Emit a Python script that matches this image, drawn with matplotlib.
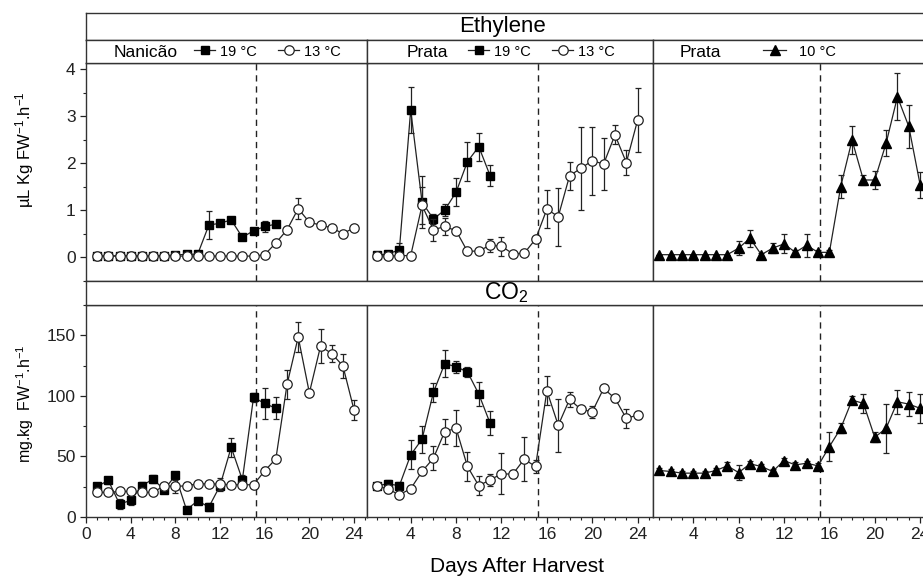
import matplotlib
matplotlib.use('Agg')
import matplotlib.pyplot as plt
from matplotlib.lines import Line2D
from matplotlib.ticker import MultipleLocator
import numpy as np

plt.rcParams['font.family'] = ['Liberation Sans', 'DejaVu Sans']
plt.rcParams['mathtext.fontset'] = 'custom'
plt.rcParams['mathtext.rm'] = 'Liberation Sans'
plt.rcParams['mathtext.it'] = 'Liberation Sans'

# ---------------- data ----------------
days24 = list(range(1, 25))
days17 = list(range(1, 18))
days11 = list(range(1, 12))

nan_eth_19 = [0.02, 0.02, 0.03, 0.03, 0.02, 0.02, 0.03, 0.04, 0.06, 0.06, 0.68, 0.72, 0.79, 0.42, 0.56, 0.65, 0.70]
nan_eth_19_err = [0.02, 0, 0, 0, 0, 0, 0, 0, 0.02, 0.02, 0.30, 0.05, 0.04, 0.04, 0.05, 0.12, 0.04]
nan_eth_13 = [0.02, 0.02, 0.02, 0.02, 0.02, 0.02, 0.03, 0.02, 0.02, 0.02, 0.02, 0.02, 0.02, 0.02, 0.02,
              0.05, 0.30, 0.58, 1.03, 0.74, 0.68, 0.62, 0.50, 0.62]
nan_eth_13_err = [0.05, 0, 0, 0, 0, 0, 0.03, 0.03, 0.03, 0.02, 0, 0, 0, 0, 0,
                  0.05, 0.05, 0.05, 0.23, 0.05, 0.04, 0.04, 0.05, 0.03]

pra_eth_19 = [0.04, 0.07, 0.15, 3.13, 1.17, 0.81, 1.00, 1.38, 2.03, 2.35, 1.73]
pra_eth_19_err = [0.02, 0.03, 0.15, 0.48, 0.55, 0.10, 0.12, 0.30, 0.42, 0.30, 0.22]
pra_eth_13 = [0.03, 0.02, 0.03, 0.03, 1.10, 0.58, 0.65, 0.56, 0.12, 0.13, 0.25, 0.23, 0.07, 0.08, 0.38,
              1.02, 0.86, 1.73, 1.89, 2.05, 1.98, 2.60, 2.01, 2.92]
pra_eth_13_err = [0.02, 0.02, 0.02, 0.02, 0.40, 0.24, 0.18, 0.05, 0.05, 0.05, 0.14, 0.20, 0.05, 0.03, 0.05,
                  0.40, 0.62, 0.30, 0.88, 0.72, 0.55, 0.20, 0.26, 0.68]

pra_eth_10 = [0.05, 0.05, 0.05, 0.05, 0.05, 0.05, 0.05, 0.19, 0.40, 0.05, 0.19, 0.28, 0.10, 0.25, 0.10,
              0.10, 1.50, 2.49, 1.64, 1.64, 2.42, 3.41, 2.78, 1.54]
pra_eth_10_err = [0, 0, 0, 0, 0, 0, 0, 0.15, 0.18, 0.03, 0.10, 0.20, 0.05, 0.25, 0.05,
                  0.05, 0.24, 0.30, 0.10, 0.20, 0.28, 0.50, 0.45, 0.28]

nan_co2_19 = [25.2, 30.2, 10.7, 13.7, 25.8, 31.3, 22.5, 34.3, 6.0, 13.4, 8.2, 25.8, 57.6, 30.7, 98.7, 93.8, 89.7]
nan_co2_19_err = [3, 3, 4, 4, 3, 3, 3, 3, 3, 3, 3, 4, 8, 4, 4, 13, 9]
nan_co2_13 = [20.3, 20.3, 21.1, 21.1, 20.3, 20.3, 25.8, 25.2, 25.8, 27.4, 27.4, 27.1, 26.6, 26.6, 26.6,
              38.1, 48.0, 109.4, 148.6, 102.5, 141.0, 134.9, 124.8, 88.3]
nan_co2_13_err = [2, 2, 2, 2, 2, 2, 2, 5, 3, 2, 2, 5, 3, 3, 2, 3, 2, 12, 12, 3, 14, 7, 10, 8]

pra_co2_19 = [25.8, 27.4, 25.8, 51.3, 64.2, 102.8, 126.7, 124.0, 119.8, 101.5, 77.3]
pra_co2_19_err = [2, 3, 3, 12, 11, 8, 11, 5, 4, 10, 10]
pra_co2_13 = [25.8, 23.0, 18.4, 23.3, 37.6, 48.5, 70.5, 73.2, 41.7, 25.8, 30.7, 35.6, 35.4, 47.7, 41.7,
              104.2, 75.7, 97.1, 88.8, 86.9, 106.1, 97.9, 81.4, 84.2]
pra_co2_13_err = [2, 3, 3, 2, 3, 10, 10, 15, 12, 8, 5, 17, 3, 18, 5, 12, 22, 6, 3, 5, 3, 3, 8, 3]

pra_co2_10 = [38.4, 37.6, 36.2, 36.2, 36.2, 38.4, 42.2, 36.7, 43.9, 41.7, 37.6, 46.6, 43.0, 44.4, 42.2,
              58.1, 73.2, 96.5, 93.8, 65.8, 73.2, 95.1, 93.2, 89.7]
pra_co2_10_err = [2, 2, 2, 2, 2, 2, 3, 6, 2, 2, 2, 2, 2, 2, 2, 12, 4, 3, 8, 4, 20, 10, 10, 12]

transfer_day = 15.2
panel_names = ['Nanicão', 'Prata', 'Prata']
x_ticks = [0, 4, 8, 12, 16, 20, 24]

# ---------------- layout ----------------
W, H = 923, 579
fig = plt.figure(figsize=(W / 100, H / 100), dpi=100)
EDGE = '#333333'

def fax(x0, y0, x1, y1):
    return fig.add_axes([x0 / W, 1 - y1 / H, (x1 - x0) / W, (y1 - y0) / H])

def band(ax):
    ax.set_xticks([]); ax.set_yticks([])
    for s in ax.spines.values():
        s.set_color(EDGE); s.set_linewidth(1.0)

cols = [(86, 367), (367, 653), (653, 936)]
xlims = [(0, 25.16), (0.15, 25.35), (0.45, 25.4)]

top = [fax(c[0], 63, c[1], 281) for c in cols]
bot = [fax(c[0], 305, c[1], 517) for c in cols]

# header bands
eth_band = fax(86, 13, 936, 40); band(eth_band)
eth_band.text(0.49, 0.5, 'Ethylene', ha='center', va='center', fontsize=16, transform=eth_band.transAxes)
co2_band = fax(86, 281, 936, 305); band(co2_band)
co2_band.text(0.495, 0.5, 'CO$_2$', ha='center', va='center', fontsize=16.5, transform=co2_band.transAxes)
lab_bands = [fax(c[0], 40, c[1], 63) for c in cols]
for b in lab_bands:
    band(b)

line_kw = dict(color='#222222', lw=0.9)
err_kw = dict(ecolor='#222222', elinewidth=0.9, capsize=2.2, capthick=0.9)
sq = dict(marker='s', ms=6.2, mfc='black', mec='black')
ci = dict(marker='o', ms=6.8, mfc='white', mec='#222222', mew=0.9)
tr = dict(marker='^', ms=7.8, mfc='black', mec='black')

def series(ax, x, y, e, mk, z):
    ax.errorbar(x, y, yerr=e, fmt='-', zorder=z, **line_kw, **mk, **err_kw)

# Ethylene
series(top[0], days17, nan_eth_19, nan_eth_19_err, sq, 3)
series(top[0], days24, nan_eth_13, nan_eth_13_err, ci, 4)
series(top[1], days11, pra_eth_19, pra_eth_19_err, sq, 3)
series(top[1], days24, pra_eth_13, pra_eth_13_err, ci, 4)
series(top[2], days24, pra_eth_10, pra_eth_10_err, tr, 3)
# CO2
series(bot[0], days17, nan_co2_19, nan_co2_19_err, sq, 3)
series(bot[0], days24, nan_co2_13, nan_co2_13_err, ci, 4)
series(bot[1], days11, pra_co2_19, pra_co2_19_err, sq, 3)
series(bot[1], days24, pra_co2_13, pra_co2_13_err, ci, 4)
series(bot[2], days24, pra_co2_10, pra_co2_10_err, tr, 3)

for i in range(3):
    for ax in (top[i], bot[i]):
        ax.set_xlim(*xlims[i])
        ax.axvline(transfer_day, color='#222222', lw=1.0, ls=(0, (4.5, 3.5)), zorder=1)
        for s in ax.spines.values():
            s.set_color(EDGE); s.set_linewidth(1.0)
        ax.tick_params(direction='out', colors='#222222', labelsize=12.5, length=4, width=0.9)
        ax.tick_params(which='minor', direction='out', length=2, width=0.8, colors='#222222')
    top[i].set_ylim(-0.51, 4.13)
    bot[i].set_ylim(0, 175)
    top[i].set_xticks([])
    bot[i].set_xticks([t for t in x_ticks if xlims[i][0] <= t <= xlims[i][1]])
    bot[i].xaxis.set_minor_locator(MultipleLocator(1))
    if i == 0:
        top[i].set_yticks([0, 1, 2, 3, 4])
        top[i].yaxis.set_minor_locator(MultipleLocator(0.5))
        bot[i].set_yticks([0, 50, 100, 150])
        bot[i].yaxis.set_minor_locator(MultipleLocator(25))
    else:
        top[i].set_yticks([]); bot[i].set_yticks([])
        top[i].yaxis.set_minor_locator(plt.NullLocator())
        bot[i].yaxis.set_minor_locator(plt.NullLocator())

# panel label bands with legends
h19 = Line2D([], [], **line_kw, **sq)
h13 = Line2D([], [], **line_kw, **ci)
h10 = Line2D([], [], **line_kw, **tr)
name_x = [28 / 281, 40 / 286, 27 / 283]
leg_x = [108 / 281, 101 / 286, 110 / 283]
handles = [[h19, h13], [h19, h13], [h10]]
labels = [['19 °C', '13 °C'], ['19 °C', '13 °C'], ['10 °C']]
for i, b in enumerate(lab_bands):
    b.text(name_x[i], 0.45, panel_names[i], ha='left', va='center', fontsize=12.5, transform=b.transAxes)
    b.legend(handles[i], labels[i], ncol=2, loc='center left', bbox_to_anchor=(leg_x[i], 0.5),
             frameon=False, fontsize=10.5, handlelength=1.45 if i < 2 else 1.6,
             handletextpad=0.3 if i < 2 else 0.9, columnspacing=1.5, borderpad=0, borderaxespad=0)

# axis labels
fig.text(25 / W, 1 - 150 / H, 'µL Kg FW$^{-1}$.h$^{-1}$', rotation=90, ha='center', va='center', fontsize=12)
fig.text(25 / W, 1 - 404 / H, 'mg.kg  FW$^{-1}$.h$^{-1}$', rotation=90, ha='center', va='center', fontsize=11.5)
fig.text(517 / W, 1 - 567 / H, 'Days After Harvest', ha='center', va='center', fontsize=15)

fig.savefig('out.png', dpi=100)
